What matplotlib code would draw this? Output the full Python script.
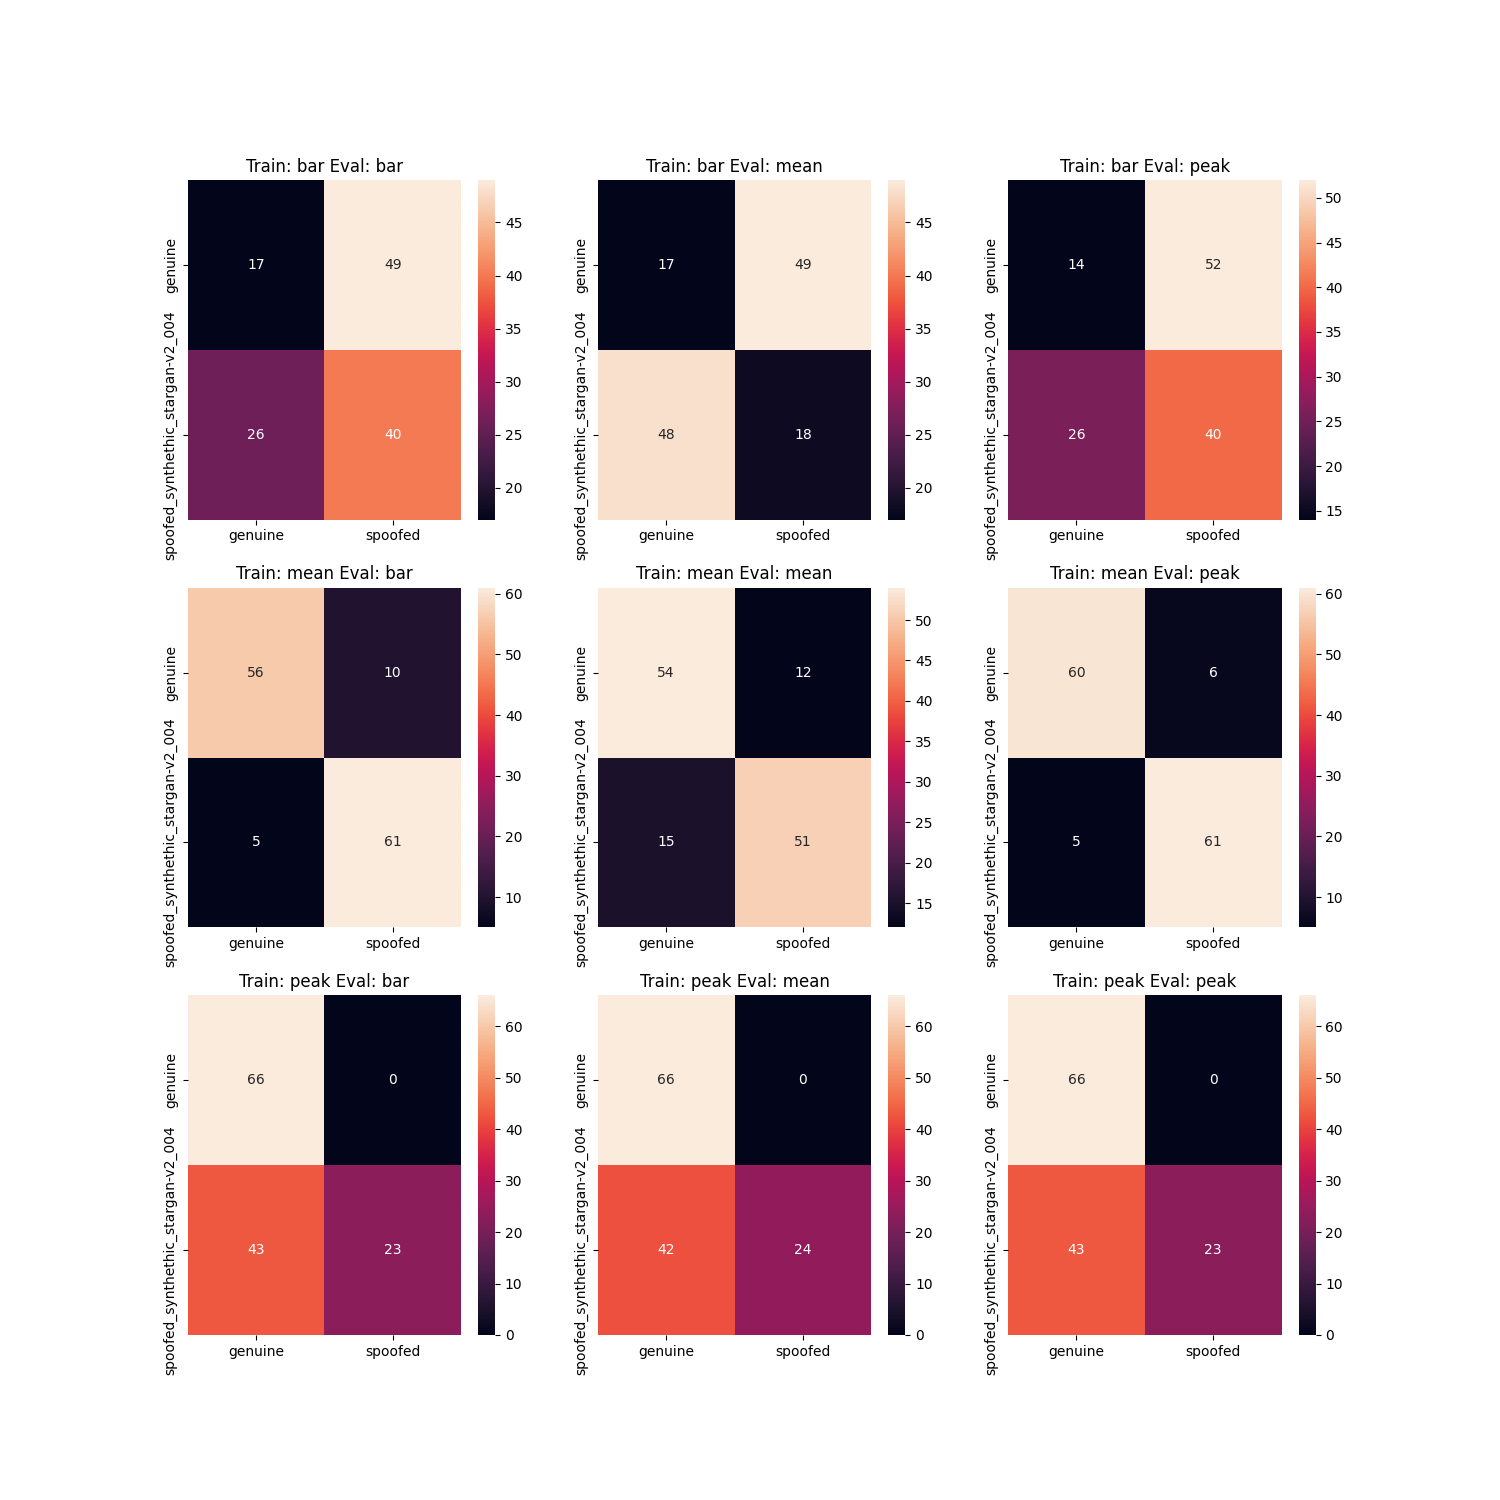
import matplotlib
matplotlib.use("Agg")
import matplotlib.pyplot as plt
import seaborn as sns
import numpy as np

features = ["bar", "mean", "peak"]
classes = ["genuine", "spoofed_synthethic_stargan-v2_004"]
pred_labels = ["genuine", "spoofed"]

# confusion matrices, [train][eval] -> [[tn, fp], [fn, tp]]
cm_bar_bar = [[17, 49], [26, 40]]
cm_bar_mean = [[17, 49], [48, 18]]
cm_bar_peak = [[14, 52], [26, 40]]
cm_mean_bar = [[56, 10], [5, 61]]
cm_mean_mean = [[54, 12], [15, 51]]
cm_mean_peak = [[60, 6], [5, 61]]
cm_peak_bar = [[66, 0], [43, 23]]
cm_peak_mean = [[66, 0], [42, 24]]
cm_peak_peak = [[66, 0], [43, 23]]

matrices = [
    [cm_bar_bar, cm_bar_mean, cm_bar_peak],
    [cm_mean_bar, cm_mean_mean, cm_mean_peak],
    [cm_peak_bar, cm_peak_mean, cm_peak_peak],
]

fig, axes = plt.subplots(3, 3, figsize=(15, 15))
for i, train in enumerate(features):
    for j, ev in enumerate(features):
        ax = axes[i, j]
        sns.heatmap(np.array(matrices[i][j]), annot=True, fmt="d", ax=ax,
                    xticklabels=pred_labels, yticklabels=classes)
        ax.set_title(f"Train: {train} Eval: {ev}")

plt.savefig("out.png", dpi=100)
